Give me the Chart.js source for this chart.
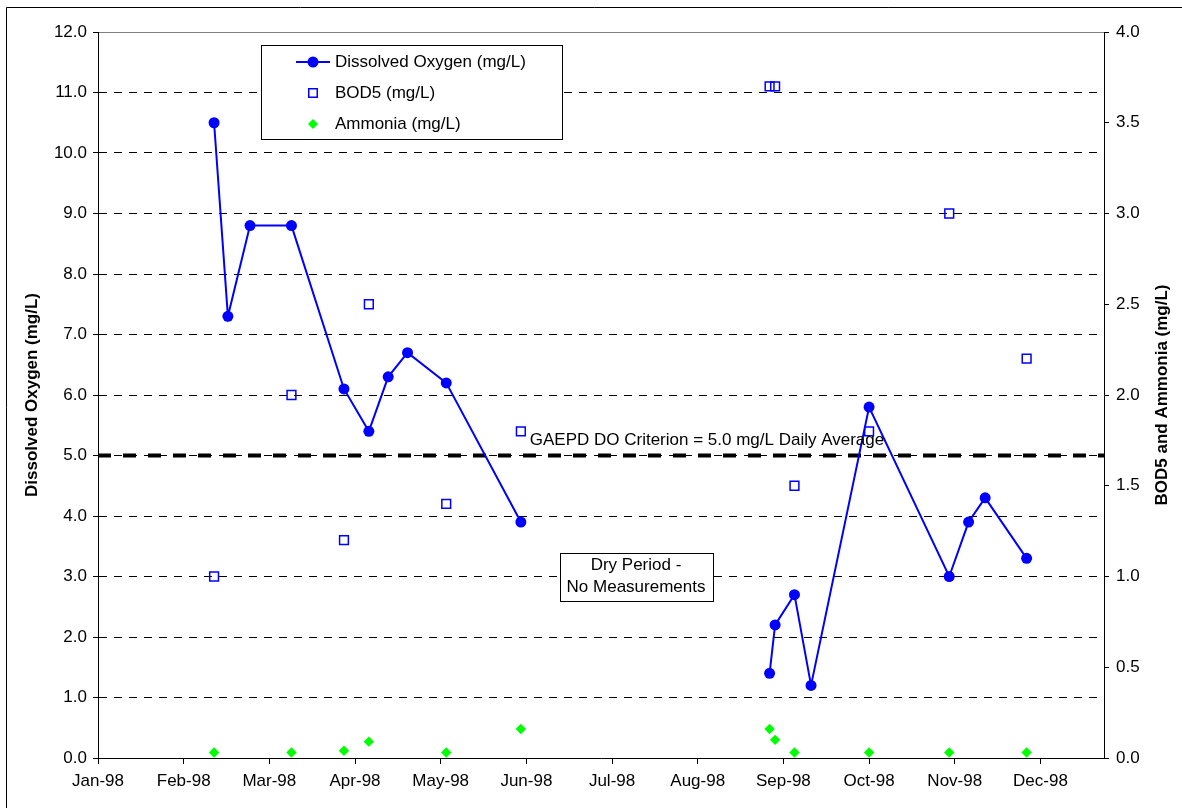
<!DOCTYPE html>
<html>
<head>
<meta charset="utf-8">
<script src="https://cdn.jsdelivr.net/npm/chart.js@4"></script>
<style>
  html, body { margin: 0; padding: 0; background: #fff; }
  #wrap { width: 1182px; height: 808px; }
</style>
</head>
<body>
<div id="wrap"><canvas id="chart" width="1182" height="808"></canvas></div>
<script>
// x values are days counted from 1 Jan 1998
const monthLabels = ['Jan-98', 'Feb-98', 'Mar-98', 'Apr-98', 'May-98', 'Jun-98',
                     'Jul-98', 'Aug-98', 'Sep-98', 'Oct-98', 'Nov-98', 'Dec-98'];
const doDays = [42, 47, 55, 70, 89, 98, 105, 112, 126, 153, 243, 245, 252, 258, 279, 308, 315, 321, 336];
const doValues = [10.5, 7.3, 8.8, 8.8, 6.1, 5.4, 6.3, 6.7, 6.2, 3.9, 1.4, 2.2, 2.7, 1.2, 5.8, 3.0, 3.9, 4.3, 3.3];
const sampleDays = [42, 70, 89, 98, 126, 153, 243, 245, 252, 279, 308, 336];
const bodValues = [1.0, 2.0, 1.2, 2.5, 1.4, 1.8, 3.7, 3.7, 1.5, 1.8, 3.0, 2.2];
const ammoniaValues = [0.03, 0.03, 0.04, 0.09, 0.03, 0.16, 0.16, 0.10, 0.03, 0.03, 0.03, 0.03];
const criterion = 5.0;
const criterionSpan = [0, 364];

const FONT = "'Liberation Sans', Arial, sans-serif";
const BLUE = '#0000ff';
const GREEN = '#00ff00';

const pts = (xs, ys) => xs.map((x, i) => ({ x: x, y: ys[i] }));

// legend, notes, frame, left axis line and the right axis title
const extras = {
  id: 'extras',
  afterDatasetsDraw(chart) {
    const ctx = chart.ctx;
    const a = chart.chartArea;
    ctx.save();
    ctx.setLineDash([]);

    // grey top edge of the plot area
    ctx.strokeStyle = '#808080';
    ctx.lineWidth = 1;
    ctx.beginPath();
    ctx.moveTo(a.left, a.top + 0.5);
    ctx.lineTo(a.right, a.top + 0.5);
    ctx.stroke();

    // solid left axis line (the scale border is dashed with its grid)
    ctx.strokeStyle = '#000';
    ctx.beginPath();
    ctx.moveTo(Math.round(a.left) + 0.5, a.top);
    ctx.lineTo(Math.round(a.left) + 0.5, a.bottom);
    ctx.stroke();

    // outer frame
    ctx.beginPath();
    ctx.moveTo(6.5, 808);
    ctx.lineTo(6.5, 7.5);
    ctx.lineTo(1182, 7.5);
    ctx.stroke();

    ctx.font = '17px ' + FONT;
    ctx.fillStyle = '#000';
    ctx.textBaseline = 'middle';

    // criterion note
    ctx.textAlign = 'center';
    ctx.fillText('GAEPD DO Criterion = 5.0 mg/L Daily Average', 707, 440);

    // dry period box
    ctx.fillStyle = '#fff';
    ctx.fillRect(560, 553, 153, 48);
    ctx.strokeStyle = '#000';
    ctx.strokeRect(560.5, 553.5, 153, 48);
    ctx.fillStyle = '#000';
    ctx.fillText('Dry Period -', 636, 565);
    ctx.fillText('No Measurements', 636, 587);

    // legend
    ctx.fillStyle = '#fff';
    ctx.fillRect(261, 45, 301, 94);
    ctx.strokeRect(261.5, 45.5, 301, 94);
    const ly = [62, 93, 124];
    ctx.strokeStyle = BLUE;
    ctx.lineWidth = 2;
    ctx.beginPath();
    ctx.moveTo(296, ly[0]);
    ctx.lineTo(330, ly[0]);
    ctx.stroke();
    ctx.fillStyle = BLUE;
    ctx.beginPath();
    ctx.arc(313, ly[0], 5.5, 0, Math.PI * 2);
    ctx.fill();
    ctx.lineWidth = 1.5;
    ctx.strokeRect(308.75, ly[1] - 4.25, 8.5, 8.5);
    ctx.fillStyle = GREEN;
    ctx.beginPath();
    ctx.moveTo(313, ly[2] - 5);
    ctx.lineTo(318, ly[2]);
    ctx.lineTo(313, ly[2] + 5);
    ctx.lineTo(308, ly[2]);
    ctx.closePath();
    ctx.fill();
    ctx.fillStyle = '#000';
    ctx.textAlign = 'left';
    ctx.fillText('Dissolved Oxygen (mg/L)', 335, ly[0]);
    ctx.fillText('BOD5 (mg/L)', 335, ly[1]);
    ctx.fillText('Ammonia (mg/L)', 335, ly[2]);

    // right axis title, reading upwards
    ctx.font = 'bold 17px ' + FONT;
    ctx.textAlign = 'center';
    ctx.translate(1162, (a.top + a.bottom) / 2);
    ctx.rotate(-Math.PI / 2);
    ctx.fillText('BOD5 and Ammonia (mg/L)', 0, 0);
    ctx.restore();
  }
};

new Chart(document.getElementById('chart'), {
  data: {
    datasets: [
      {
        type: 'line',
        label: 'Dissolved Oxygen (mg/L)',
        data: pts(doDays, doValues),
        yAxisID: 'yDO',
        borderColor: BLUE,
        backgroundColor: BLUE,
        borderWidth: 2,
        pointRadius: 5.5,
        pointBorderWidth: 0,
        tension: 0,
        segment: {
          // no line across the dry period
          borderColor: c => (c.p1.parsed.x - c.p0.parsed.x > 60 ? 'rgba(0,0,0,0)' : BLUE)
        }
      },
      {
        type: 'scatter',
        label: 'BOD5 (mg/L)',
        data: pts(sampleDays, bodValues),
        yAxisID: 'yBOD',
        pointStyle: 'rect',
        pointRadius: 6.2,
        borderColor: BLUE,
        backgroundColor: 'rgba(0,0,0,0)',
        borderWidth: 1.5
      },
      {
        type: 'scatter',
        label: 'Ammonia (mg/L)',
        data: pts(sampleDays, ammoniaValues),
        yAxisID: 'yBOD',
        pointStyle: 'rectRot',
        pointRadius: 5.2,
        borderWidth: 0,
        backgroundColor: GREEN,
        borderColor: GREEN
      },
      {
        type: 'line',
        label: 'criterion',
        data: criterionSpan.map(x => ({ x: x, y: criterion })),
        yAxisID: 'yDO',
        borderColor: '#000',
        borderWidth: 4,
        borderDash: [13, 12],
        pointRadius: 0
      }
    ]
  },
  options: {
    responsive: false,
    animation: false,
    layout: { padding: { top: 32, left: 0, right: 0, bottom: 0 } },
    plugins: {
      legend: { display: false },
      tooltip: { enabled: false }
    },
    scales: {
      x: {
        type: 'linear',
        min: 0,
        max: 364,
        afterBuildTicks: s => { s.ticks = monthLabels.map((m, i) => ({ value: i * 31 })); },
        afterFit: s => { s.height = 50; },
        ticks: {
          autoSkip: false,
          maxRotation: 0,
          padding: 7,
          color: '#000',
          font: { family: FONT, size: 17 },
          callback: v => monthLabels[Math.round(v / 31)]
        },
        grid: { drawOnChartArea: false, tickLength: 6, tickColor: '#000' },
        border: { color: '#000', width: 1 }
      },
      yDO: {
        position: 'left',
        min: 0,
        max: 12,
        afterFit: s => { s.width = 98; },
        ticks: {
          stepSize: 1,
          padding: 6,
          color: '#000',
          font: { family: FONT, size: 17 },
          callback: v => v.toFixed(1)
        },
        grid: {
          color: c => (c.tick && c.tick.value > 0 && c.tick.value < 12 ? '#000' : 'rgba(0,0,0,0)'),
          tickLength: 5,
          tickColor: '#000',
          tickBorderDash: []
        },
        border: { color: '#000', width: 1, dash: [8, 7] },
        title: {
          display: true,
          text: 'Dissolved Oxygen (mg/L)',
          color: '#000',
          font: { family: FONT, size: 17, weight: 'bold' },
          padding: { top: 22, bottom: 0 }
        }
      },
      yBOD: {
        position: 'right',
        min: 0,
        max: 4,
        afterFit: s => { s.width = 78; },
        ticks: {
          stepSize: 0.5,
          padding: 7,
          color: '#000',
          font: { family: FONT, size: 17 },
          callback: v => v.toFixed(1)
        },
        grid: { drawOnChartArea: false, tickLength: 5, tickColor: '#000' },
        border: { color: '#000', width: 1 }
      }
    }
  },
  plugins: [extras]
});
</script>
</body>
</html>
